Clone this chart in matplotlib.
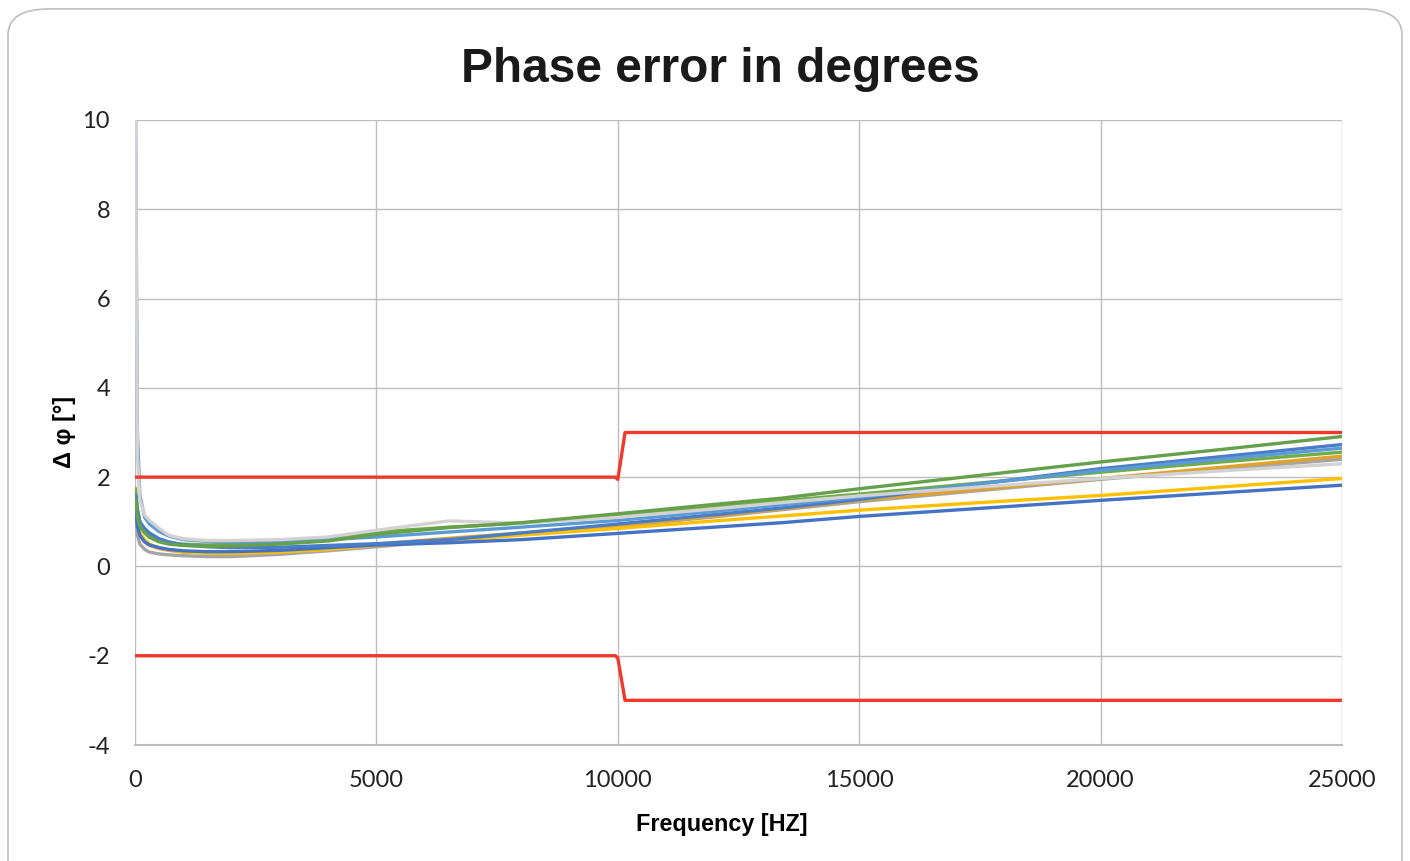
import matplotlib
matplotlib.use('Agg')
import matplotlib.pyplot as plt
from matplotlib.patches import FancyBboxPatch

plt.rcParams['axes.unicode_minus'] = False

# Frequency points of the measured curves (Hz)
freq = [10, 50, 100, 200, 300, 500, 700, 1000, 1500, 2000, 3000, 4000, 5000,
        6500, 8000, 10000, 12000, 13400, 15000, 17500, 20000, 22500, 25000]

# Phase error curves (degrees)
gray_dark = [1.2, 0.7, 0.5, 0.38, 0.32, 0.28, 0.26, 0.24, 0.22, 0.22, 0.27, 0.35, 0.44,
             0.58, 0.72, 0.9, 1.11, 1.27, 1.45, 1.70, 1.95, 2.18, 2.40]
gray_light = [10.5, 2.5, 1.5, 1.15, 1.03, 0.85, 0.7, 0.62, 0.58, 0.58, 0.6, 0.66, 0.81,
              1.02, 0.97, 1.1, 1.29, 1.43, 1.58, 1.78, 1.97, 2.14, 2.30]
blue_light = [10.5, 3.0, 1.6, 1.1, 0.95, 0.78, 0.68, 0.6, 0.56, 0.55, 0.56, 0.6, 0.66,
              0.77, 0.88, 1.03, 1.23, 1.38, 1.55, 1.85, 2.15, 2.40, 2.65]
green_dark = [1.5, 1.1, 0.9, 0.75, 0.65, 0.55, 0.5, 0.47, 0.45, 0.46, 0.5, 0.57, 0.72,
              0.87, 0.98, 1.18, 1.39, 1.53, 1.74, 2.04, 2.34, 2.62, 2.91]
green = [1.75, 1.3, 1.0, 0.8, 0.7, 0.58, 0.53, 0.5, 0.48, 0.5, 0.55, 0.62, 0.77,
         0.88, 0.97, 1.15, 1.33, 1.47, 1.62, 1.87, 2.11, 2.34, 2.56]
blue = [1.6, 1.25, 1.0, 0.85, 0.75, 0.62, 0.55, 0.48, 0.44, 0.42, 0.43, 0.47, 0.51,
        0.6, 0.75, 0.95, 1.16, 1.31, 1.50, 1.85, 2.19, 2.46, 2.73]
blue_low = [1.3, 0.9, 0.7, 0.55, 0.48, 0.42, 0.38, 0.35, 0.33, 0.33, 0.36, 0.42, 0.48,
            0.53, 0.6, 0.74, 0.88, 0.98, 1.12, 1.30, 1.48, 1.65, 1.82]
yellow = [1.6, 1.0, 0.75, 0.6, 0.5, 0.42, 0.37, 0.33, 0.3, 0.29, 0.32, 0.38, 0.47,
          0.58, 0.7, 0.85, 1.02, 1.13, 1.26, 1.43, 1.59, 1.78, 1.97]
gold = [1.5, 0.95, 0.7, 0.55, 0.47, 0.4, 0.36, 0.32, 0.3, 0.3, 0.33, 0.4, 0.5,
        0.63, 0.75, 0.92, 1.13, 1.29, 1.48, 1.73, 1.97, 2.22, 2.47]

# Tolerance limits
limit_freq = [0, 9950, 10000, 10150, 25000]
limit_upper = [2, 2, 1.95, 3, 3]
limit_lower = [-2, -2, -2.05, -3, -3]

series = [
    (gray_dark, '#A5A5A5'),
    (gold, '#E0A22A'),
    (yellow, '#FFC000'),
    (blue_low, '#4472C4'),
    (green, '#70AD47'),
    (blue, '#4A7DC9'),
    (blue_light, '#5B9BD5'),
    (gray_light, '#D3D1D1'),
    (green_dark, '#65A04A'),
]

fig = plt.figure(figsize=(14.1, 8.61), dpi=100)

# Rounded frame around the chart (kept behind the axes)
frame = FancyBboxPatch((8 / 1410, -0.05), 1394 / 1410, 1.05 - 8 / 861 - 0.001,
                       boxstyle='round,pad=0,rounding_size=0.03',
                       transform=fig.transFigure, facecolor='white',
                       edgecolor='#BFBFBF', linewidth=1.2, zorder=-10)
fig.patches.append(frame)

ax = fig.add_axes([135 / 1410, 1 - 745 / 861, (1342 - 135) / 1410, (745 - 120) / 861])
ax.set_zorder(5)
ax.set_facecolor('none')

for values, color in series:
    ax.plot(freq, values, color=color, linewidth=2.4, solid_capstyle='round')

ax.plot(limit_freq, limit_upper, color='#F0392B', linewidth=2.4)
ax.plot(limit_freq, limit_lower, color='#F0392B', linewidth=2.4)

ax.set_xlim(0, 25000)
ax.set_ylim(-4, 10)
ax.set_xticks(range(0, 25001, 5000))
ax.set_yticks(range(-4, 11, 2))
ax.grid(True, color='#BDBDBD', linewidth=1.0)
ax.set_axisbelow(True)
for side in ['top', 'right', 'left']:
    ax.spines[side].set_visible(False)
ax.spines['bottom'].set_color('#BDBDBD')
ax.spines['bottom'].set_linewidth(1.5)
ax.tick_params(length=0, labelsize=17, colors='#222222')
ax.tick_params(axis='x', pad=18)
ax.tick_params(axis='y', pad=18)
for lab in ax.get_xticklabels() + ax.get_yticklabels():
    lab.set_family('Lato')

ax.set_xlabel('Frequency [HZ]', fontsize=16.8, fontweight='bold',
              family='Liberation Sans', labelpad=14)
ax.xaxis.set_label_coords((722 - 135) / (1342 - 135), -0.1)
ax.xaxis.label.set_va('center')
ax.xaxis.set_label_coords((722 - 135) / (1342 - 135), -(825 - 745) / (745 - 120))
ax.set_ylabel('Δ φ [°]', fontsize=17, fontweight='bold',
              family='Liberation Sans')
ax.yaxis.label.set_va('center')
ax.yaxis.set_label_coords(-(135 - 65) / (1342 - 135), (745 - 432) / (745 - 120))

fig.text(720 / 1410, 1 - 70 / 861, 'Phase error in degrees', fontsize=34.5,
         fontweight='bold', family='Liberation Sans', ha='center', va='center',
         color='#1A1A1A')

fig.savefig('out.png', dpi=100)
